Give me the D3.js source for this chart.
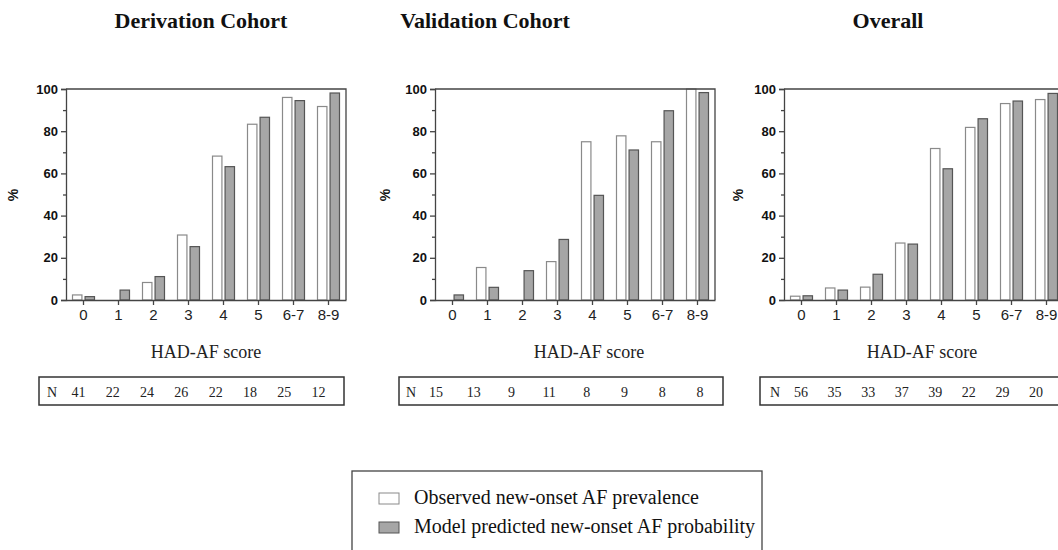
<!DOCTYPE html>
<html>
<head>
<meta charset="utf-8">
<script src="https://cdn.jsdelivr.net/npm/d3@7"></script>
<style>
  html, body { margin: 0; padding: 0; background: #fff; }
  svg { display: block; }
</style>
</head>
<body>
<svg id="chart" width="1058" height="550"></svg>
<script>
// HAD-AF score: observed vs predicted new-onset AF, three cohorts
const categories = ['0', '1', '2', '3', '4', '5', '6-7', '8-9'];
const panelTitles = ['Derivation Cohort', 'Validation Cohort', 'Overall'];
const yTicks = [0, 20, 40, 60, 80, 100];
const yMinorTicks = [10, 30, 50, 70, 90];

// observed prevalence (%)
const observedDerivation = [2.4, 0, 8.3, 30.8, 68.2, 83.3, 96.0, 91.7];
const observedValidation = [0, 15.4, 0, 18.2, 75.0, 77.8, 75.0, 100];
const observedOverall = [1.8, 5.7, 6.1, 27.0, 71.8, 81.8, 93.1, 95.0];

// model predicted probability (%)
const predictedDerivation = [1.6, 4.7, 11.1, 25.3, 63.2, 86.6, 94.5, 98.1];
const predictedValidation = [2.4, 6.0, 13.9, 28.7, 49.6, 71.1, 89.7, 98.3];
const predictedOverall = [2.0, 4.7, 12.2, 26.5, 62.2, 85.9, 94.3, 97.9];

// number of patients per score group
const nDerivation = [41, 22, 24, 26, 22, 18, 25, 12];
const nValidation = [15, 13, 9, 11, 8, 9, 8, 8];
const nOverall = [56, 35, 33, 37, 39, 22, 29, 20];

const legendLabels = ['Observed new-onset AF prevalence', 'Model predicted new-onset AF probability'];

const svg = d3.select('#chart');
const serif = '"Liberation Serif", "Times New Roman", serif';
const sans = '"Liberation Sans", Arial, sans-serif';

const plotTop = 89, plotBottom = 300, plotWidth = 280;
const fills = { obs: '#ffffff', pred: '#a6a6a6' };
const strokes = { obs: '#8a8a8a', pred: '#555555' };

// layout of the three panels
const panels = [
    { title: panelTitles[0], titleX: 201, x0: 66, labelX: 206, pctX: 18,
      obs: observedDerivation, pred: predictedDerivation, n: nDerivation,
      box: [39, 344], nX: 52, nFirst: 78.5, nLast: 318.5 },
    { title: panelTitles[1], titleX: 485, x0: 435, labelX: 589, pctX: 390,
      obs: observedValidation, pred: predictedValidation, n: nValidation,
      box: [399, 723], nX: 411, nFirst: 436, nLast: 700 },
    { title: panelTitles[2], titleX: 888, x0: 784, labelX: 922, pctX: 743,
      obs: observedOverall, pred: predictedOverall, n: nOverall,
      box: [760, 1075], nX: 775, nFirst: 801, nLast: 1036 }
];

const y = d3.scaleLinear().domain([0, 100]).range([plotBottom, plotTop]);
const sub = d3.scaleBand().domain(['obs', 'pred']).range([-11, 11]).paddingInner(0.25);

panels.forEach(p => {
    const g = svg.append('g');
    const x = d3.scaleBand().domain(categories).range([p.x0, p.x0 + plotWidth]);
    const cx = c => x(c) + x.bandwidth() / 2;

    // title
    g.append('text')
        .attr('x', p.titleX)
        .attr('y', 28)
        .attr('text-anchor', 'middle')
        .attr('font-family', serif)
        .attr('font-weight', 'bold')
        .attr('font-size', '22px')
        .attr('fill', '#111')
        .text(p.title);

    // bars
    const rows = categories.map((c, i) => ({ c, obs: p.obs[i], pred: p.pred[i] }));
    ['obs', 'pred'].forEach(key => {
        g.selectAll('.bar-' + key)
            .data(rows.filter(d => d[key] > 0))
            .enter()
            .append('rect')
            .attr('x', d => cx(d.c) + sub(key))
            .attr('y', d => y(d[key]))
            .attr('width', sub.bandwidth())
            .attr('height', d => y(0) - y(d[key]))
            .attr('fill', fills[key])
            .attr('stroke', strokes[key])
            .attr('stroke-width', 1.2);
    });

    // frame (top and right)
    g.append('path')
        .attr('d', `M${p.x0},${plotTop}H${p.x0 + plotWidth}V${plotBottom}`)
        .attr('fill', 'none')
        .attr('stroke', '#444')
        .attr('stroke-width', 1.3);

    // y axis
    const yAxis = g.append('g')
        .attr('transform', `translate(${p.x0},0)`)
        .call(d3.axisLeft(y).tickValues(yTicks).tickSize(5).tickPadding(3));
    g.append('g')
        .attr('transform', `translate(${p.x0},0)`)
        .call(d3.axisLeft(y).tickValues(yMinorTicks).tickSize(3).tickFormat(''))
        .call(a => a.select('.domain').remove());
    yAxis.selectAll('text')
        .attr('font-family', sans)
        .attr('font-weight', 'bold')
        .attr('font-size', '13px')
        .attr('fill', '#111');

    // x axis
    const xAxis = g.append('g')
        .attr('transform', `translate(0,${plotBottom})`)
        .call(d3.axisBottom(x).tickSize(5).tickSizeOuter(0).tickPadding(4));
    xAxis.selectAll('text')
        .attr('font-family', sans)
        .attr('font-size', '15px')
        .attr('fill', '#222');

    g.selectAll('.domain, .tick line')
        .attr('stroke', '#444')
        .attr('stroke-width', 1.3);

    // axis titles
    g.append('text')
        .attr('transform', `translate(${p.pctX},195) rotate(-90)`)
        .attr('text-anchor', 'middle')
        .attr('font-family', sans)
        .attr('font-weight', 'bold')
        .attr('font-size', '14px')
        .attr('fill', '#111')
        .text('%');

    g.append('text')
        .attr('x', p.labelX)
        .attr('y', 358)
        .attr('text-anchor', 'middle')
        .attr('font-family', serif)
        .attr('font-size', '18px')
        .attr('fill', '#222')
        .text('HAD-AF score');

    // N table
    g.append('rect')
        .attr('x', p.box[0])
        .attr('y', 377)
        .attr('width', p.box[1] - p.box[0])
        .attr('height', 28)
        .attr('fill', 'none')
        .attr('stroke', '#333')
        .attr('stroke-width', 1.5);

    const nx = d3.scalePoint().domain(categories).range([p.nFirst, p.nLast]);
    g.append('text')
        .attr('x', p.nX)
        .attr('y', 397)
        .attr('text-anchor', 'middle')
        .attr('font-family', serif)
        .attr('font-size', '14px')
        .attr('fill', '#222')
        .text('N');
    g.selectAll('.nval')
        .data(categories.map((c, i) => ({ c, n: p.n[i] })))
        .enter()
        .append('text')
        .attr('x', d => nx(d.c))
        .attr('y', 397)
        .attr('text-anchor', 'middle')
        .attr('font-family', serif)
        .attr('font-size', '14px')
        .attr('fill', '#222')
        .text(d => d.n);
});

// legend
const legend = svg.append('g');
legend.append('rect')
    .attr('x', 352)
    .attr('y', 471)
    .attr('width', 410)
    .attr('height', 100)
    .attr('fill', 'none')
    .attr('stroke', '#444')
    .attr('stroke-width', 1.3);

['obs', 'pred'].forEach((key, i) => {
    const ly = 504 + i * 29;
    legend.append('rect')
        .attr('x', 379)
        .attr('y', ly - 11)
        .attr('width', 20)
        .attr('height', 11)
        .attr('fill', fills[key])
        .attr('stroke', strokes[key])
        .attr('stroke-width', 1);
    legend.append('text')
        .attr('x', 414)
        .attr('y', ly)
        .attr('font-family', serif)
        .attr('font-size', '20px')
        .attr('fill', '#111')
        .text(legendLabels[i]);
});
</script>
</body>
</html>
